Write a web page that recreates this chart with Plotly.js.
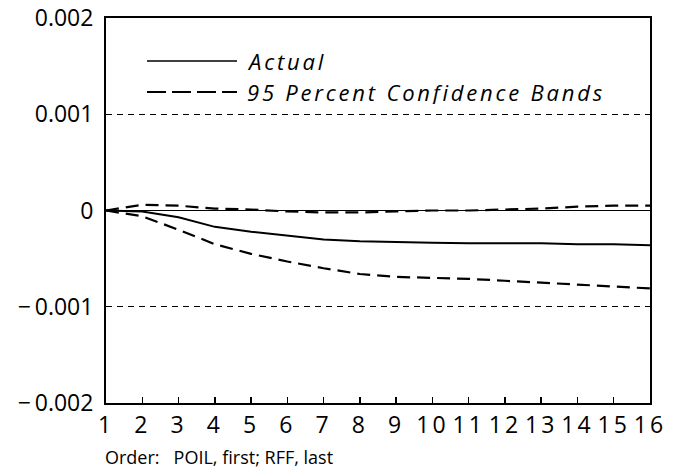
<!DOCTYPE html>
<html>
<head>
<meta charset="utf-8">
<script src="https://cdn.plot.ly/plotly-3.0.1.min.js"></script>
<style>
  html, body { margin: 0; padding: 0; background: #fff; }
  #chart { width: 681px; height: 476px; }
  .xtick text { letter-spacing: 3px; }
  .annotation[data-index="0"] text, .annotation[data-index="1"] text { letter-spacing: 2.8px; }
</style>
</head>
<body>
<div id="chart"></div>
<script>
// Periods (horizon)
const periods = [1, 2, 3, 4, 5, 6, 7, 8, 9, 10, 11, 12, 13, 14, 15, 16];
// Actual impulse response
const actual = [0, -0.00001, -0.00007, -0.00017, -0.00022, -0.00026, -0.00030, -0.00032, -0.00033, -0.000335, -0.00034, -0.00034, -0.00034, -0.00035, -0.00035, -0.00036];
// 95 percent confidence bands
const upperBand = [0, 0.00006, 0.00005, 0.00002, 0.00001, -0.00001, -0.00002, -0.00002, -0.00001, 0, 0, 0.00001, 0.00002, 0.00004, 0.00005, 0.00005];
const lowerBand = [0, -0.00006, -0.00020, -0.00035, -0.00045, -0.00053, -0.00060, -0.00066, -0.00069, -0.00070, -0.00071, -0.00073, -0.00075, -0.00077, -0.00079, -0.00081];
// Tick values / labels
const yTickVals = [-0.002, -0.001, 0, 0.001, 0.002];
const yTickText = ['\u2212\u20090.002', '\u2212\u20090.001', '0', '0.001', '0.002'];
const seriesNames = ['Actual', '95 Percent Confidence Bands'];
const footnote = 'Order:\u00a0\u00a0 POIL, first; RFF, last';

const font = 'Open Sans, sans-serif';
const lineStyles = [
  { color: '#000', width: 2 },
  { color: '#000', width: 2.2, dash: '13px,7px' }
];
const traces = [
  { x: periods, y: actual, mode: 'lines', name: seriesNames[0], line: lineStyles[0] },
  { x: periods, y: upperBand, mode: 'lines', name: seriesNames[1], line: lineStyles[1] },
  { x: periods, y: lowerBand, mode: 'lines', name: seriesNames[1], line: lineStyles[1] }
];

// Legend keys drawn in paper coordinates (plot area: 544 x 385 px)
const PW = 544, PH = 385;
const px = v => v / PW, py = v => 1 - v / PH;
const legendRows = [43, 74]; // px below plot top
const shapes = legendRows.map((r, i) => ({
  type: 'line', xref: 'paper', yref: 'paper',
  x0: px(41), x1: px(131), y0: py(r), y1: py(r),
  line: i === 0 ? { color: '#000', width: 1.5 } : { color: '#000', width: 2.2, dash: '19px,6px' }
}));
const legendAnn = legendRows.map((r, i) => ({
  text: seriesNames[i],
  xref: 'paper', yref: 'paper', x: px(140), y: py(r),
  xanchor: 'left', yanchor: 'middle', showarrow: false,
  width: 400, height: 24, align: 'left', valign: 'middle', borderpad: 0,
  font: { family: font, size: 22, style: 'italic', color: '#000' }
}));

const layout = {
  width: 681, height: 476,
  margin: { l: 106, r: 31, t: 18, b: 73 },
  paper_bgcolor: '#fff', plot_bgcolor: '#fff',
  font: { family: font, color: '#000', size: 22 },
  showlegend: false,
  xaxis: {
    range: [1, 16], tickvals: periods, ticktext: periods.map(String),
    ticks: 'inside', ticklen: 6, tickwidth: 1.5, tickcolor: '#000',
    showline: true, linecolor: '#000', linewidth: 2, mirror: true,
    showgrid: false, zeroline: false,
    tickfont: { family: font, size: 23, color: '#000' }
  },
  yaxis: {
    range: [-0.002, 0.002], tickvals: yTickVals, ticktext: yTickText,
    ticks: '', showline: true, linecolor: '#000', linewidth: 2, mirror: true,
    showgrid: true, gridcolor: '#000', gridwidth: 1.2, griddash: '6px,5px',
    zeroline: true, zerolinecolor: '#000', zerolinewidth: 1,
    ticklabelstandoff: 6,
    tickfont: { family: font, size: 23, color: '#000' }
  },
  shapes: shapes,
  annotations: legendAnn.concat([
    { text: footnote, xref: 'paper', yref: 'paper', x: -0.005, y: py(PH + 54),
      xanchor: 'left', yanchor: 'middle', showarrow: false,
      font: { family: font, size: 18, color: '#000' } }
  ])
};

Plotly.newPlot('chart', traces, layout, { staticPlot: true, displayModeBar: false });
</script>
</body>
</html>
